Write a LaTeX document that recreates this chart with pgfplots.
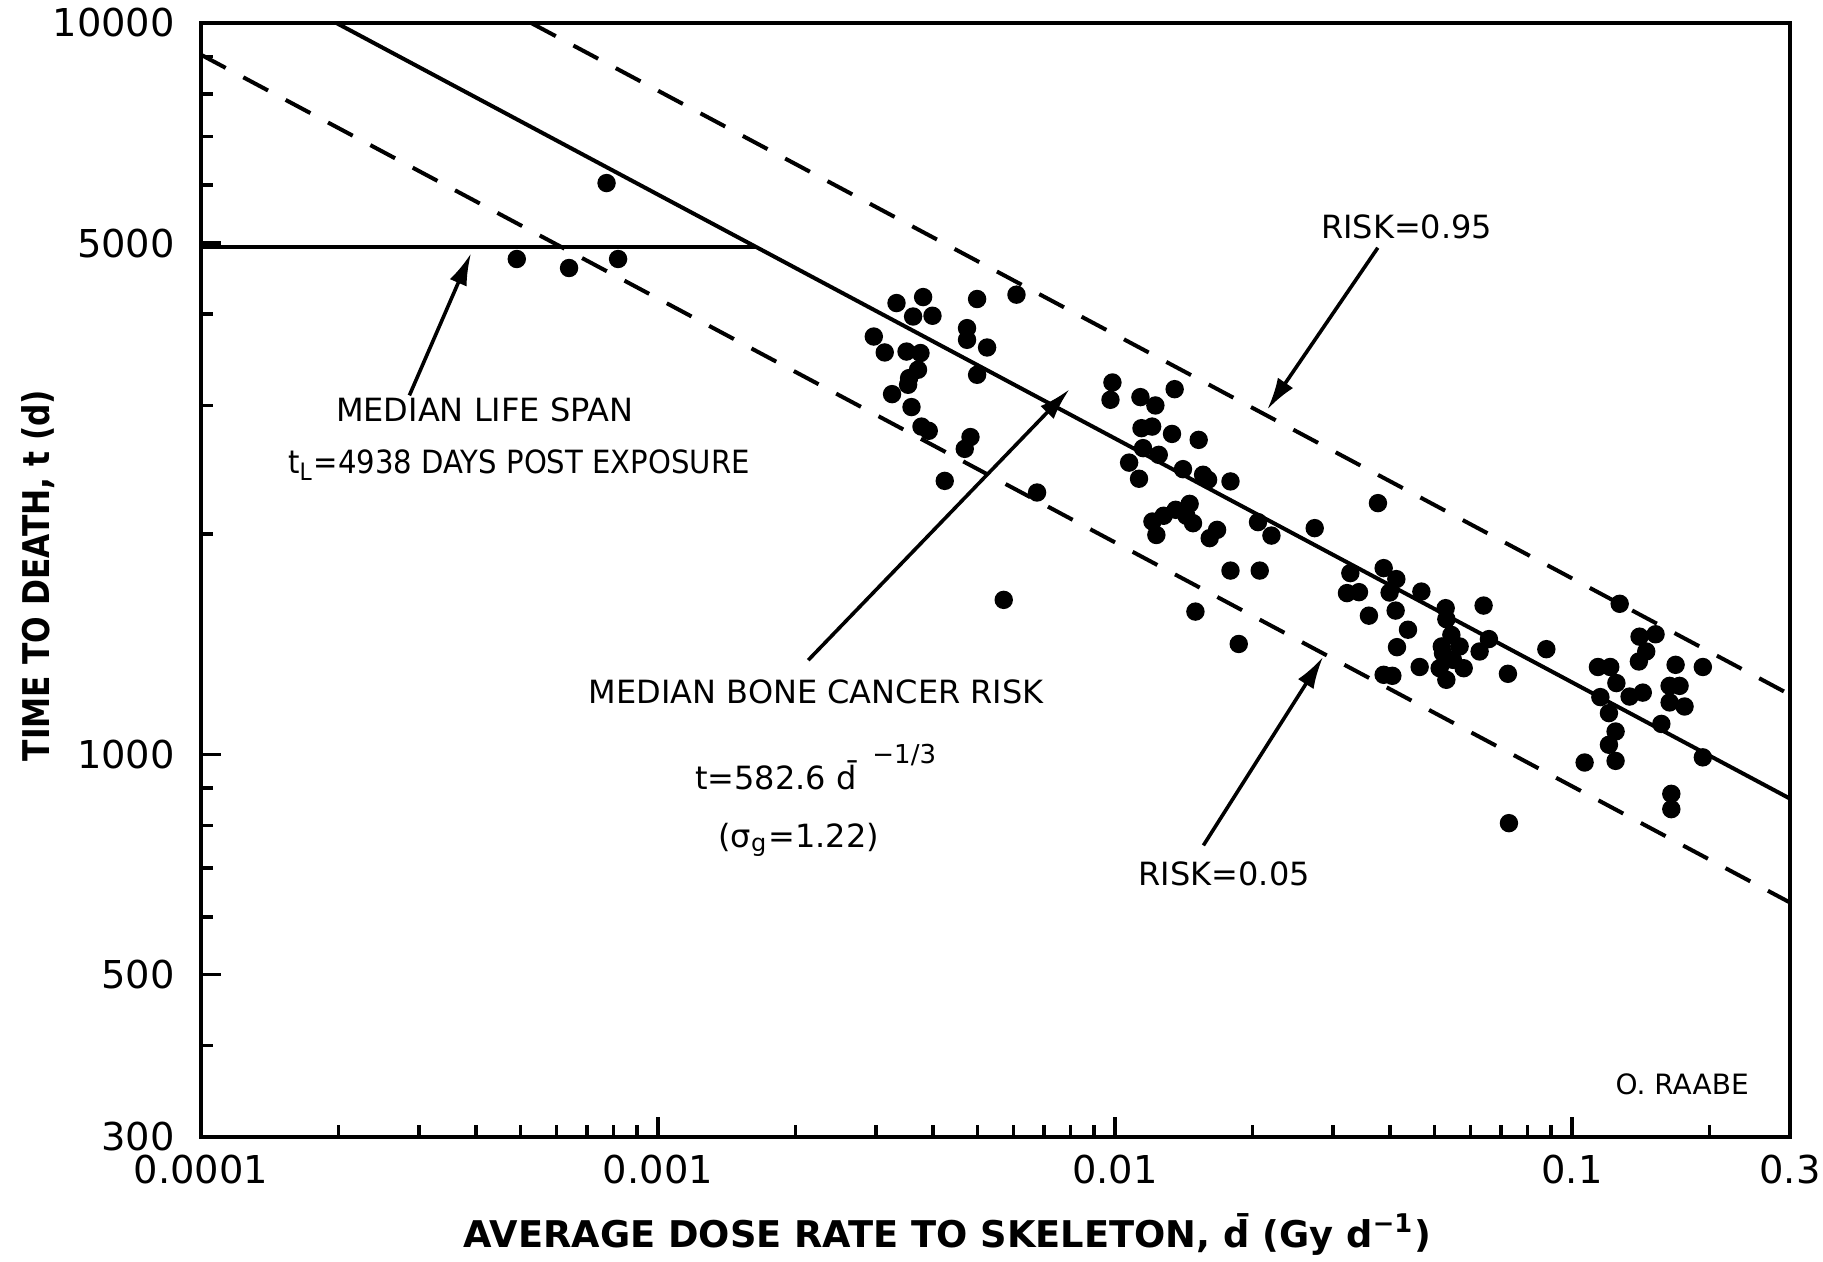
\documentclass[border=0pt]{standalone}
\usepackage{fontspec}
\setmainfont{DejaVu Sans}
\usepackage{pgfplots}
\pgfplotsset{compat=1.18}
\usetikzlibrary{arrows.meta}
\pgfplotstableread{
d t
0.000491 4757
0.000639 4624
0.000772 6042
0.000818 4757
0.003327 4141
0.003804 4220
0.003617 3970
0.003988 3979
0.004993 4194
0.006089 4252
0.002967 3727
0.003135 3545
0.003499 3555
0.003754 3538
0.004746 3827
0.004746 3689
0.005251 3601
0.003708 3357
0.003545 3270
0.003527 3202
0.004993 3304
0.003253 3109
0.003588 2985
0.003773 2807
0.003914 2770
0.004829 2716
0.004692 2617
0.004242 2366
0.006755 2281
0.005710 1627
0.009874 3225
0.009777 3054
0.01351 3158
0.01137 3080
0.01226 3000
0.01143 2793
0.01206 2807
0.01333 2743
0.01525 2692
0.01152 2623
0.01247 2568
0.01074 2506
0.01129 2382
0.01409 2455
0.01559 2412
0.01599 2374
0.01790 2362
0.01457 2201
0.01358 2160
0.01278 2120
0.01208 2082
0.01433 2120
0.01482 2071
0.01232 1996
0.01673 2028
0.01612 1976
0.02056 2078
0.02200 1992
0.02736 2039
0.01790 1784
0.02074 1784
0.01500 1568
0.01866 1416
0.03763 2206
0.03873 1798
0.03274 1770
0.04128 1737
0.03991 1665
0.03219 1662
0.03420 1667
0.04683 1670
0.03596 1548
0.04114 1573
0.05293 1585
0.06408 1598
0.04378 1481
0.04142 1402
0.05311 1531
0.05447 1457
0.05679 1405
0.05221 1376
0.06582 1438
0.06281 1383
0.08790 1393
0.04643 1317
0.05135 1312
0.05796 1312
0.05311 1265
0.03873 1285
0.04046 1281
0.07244 1289
0.07281 805.6
0.0549 1347
0.0519 1405
0.1272 1607
0.1406 1449
0.1524 1460
0.1454 1383
0.1401 1340
0.1140 1317
0.1213 1317
0.1686 1326
0.1934 1317
0.1251 1252
0.1429 1215
0.1337 1200
0.1154 1198
0.1636 1241
0.1720 1241
0.1636 1178
0.1764 1163
0.1205 1139
0.1569 1101
0.1246 1075
0.1205 1031
0.1246 980
0.1066 975
0.1934 991
0.1650 883.5
0.1650 841.9
}\pts
\begin{document}
\begin{tikzpicture}
\path[use as bounding box] (-50.25pt,-31.25pt) rectangle (405.5pt,284.25pt);
\begin{axis}[
  scale only axis, width=397.25pt, height=278.5pt,
  xmode=log, ymode=log,
  xmin=0.0001, xmax=0.3, ymin=300, ymax=10000,
  axis line style={line width=1pt},
  xtick={0.0001,0.001,0.01,0.1,0.3},
  xticklabels={0.0001,0.001,0.01,0.1,0.3},
  minor xtick={0.0002,0.0003,0.0004,0.0005,0.0006,0.0007,0.0008,0.0009,0.002,0.003,0.004,0.005,0.006,0.007,0.008,0.009,0.02,0.03,0.04,0.05,0.06,0.07,0.08,0.09,0.2},
  ytick={300,500,1000,5000,10000},
  yticklabels={300,500,1000,5000,10000},
  minor ytick={400,600,700,800,900,2000,3000,4000,6000,7000,8000,9000},
  tick pos=left, tick align=inside,
  major tick length=5pt, minor tick length=3pt,
  every tick/.append style={black, line width=0.9pt},
  tick label style={font=\fontsize{9.6}{11}\selectfont},
  yticklabel style={xshift=-3pt},
  xticklabel style={yshift=-1pt},
  clip=true,
]
\addplot[only marks, mark=*, mark size=2.1pt, black] table[x=d,y=t] {\pts};
\addplot[black, line width=1pt] coordinates {(0.0001978,10000) (0.3,870.3)};
\addplot[black, line width=1pt] coordinates {(0.0001,4938) (0.001642,4938)};
\addplot[black, line width=1pt, dash pattern=on 7pt off 5pt] coordinates {(0.0005277,10000) (0.3,1207.1)};
\addplot[black, line width=1pt, dash pattern=on 7pt off 5pt] coordinates {(0.0001,9049) (0.3,627.5)};
\end{axis}
\begin{scope}[every node/.style={font=\fontsize{8}{10}\selectfont, inner sep=0pt}]
\node at (70.95pt,181.9pt) {MEDIAN LIFE SPAN};
\node[xscale=0.91] at (79.5pt,168.0pt) {t\textsubscript{L}=4938 DAYS POST EXPOSURE};
\node at (301.4pt,227.6pt) {RISK=0.95};
\node at (153.8pt,111.3pt) {MEDIAN BONE CANCER RISK};
\node[anchor=west] at (123.3pt,92.4pt) {t=582.6 \={d}\hspace{4pt}\raisebox{1.5ex}{\fontsize{6.5}{7}\selectfont −1/3}};
\node at (149.4pt,74.4pt) {(σ\textsubscript{g}=1.22)};
\node at (255.8pt,65.7pt) {RISK=0.05};
\node[font=\fontsize{7}{8}\selectfont] at (370.3pt,13.1pt) {O. RAABE};
\end{scope}
\begin{scope}[line width=0.9pt, -{Latex[length=8pt,width=4.6pt]}]
\draw (52.1pt,185.4pt) -- (67.5pt,220.9pt);
\draw (294.2pt,222.3pt) -- (266.6pt,181.9pt);
\draw (151.8pt,119.2pt) -- (217.1pt,186.9pt);
\draw (250.6pt,72.9pt) -- (280.5pt,120.0pt);
\end{scope}
\node[font=\bfseries\fontsize{9.2}{11}\selectfont, rotate=90, xscale=0.85] at (-40.75pt,140.4pt) {TIME TO DEATH, t (d)};
\node[font=\bfseries\fontsize{9.2}{11}\selectfont] at (186.6pt,-24.4pt) {AVERAGE DOSE RATE TO SKELETON, \={d} (Gy d\textsuperscript{−1})};
\end{tikzpicture}
\end{document}
